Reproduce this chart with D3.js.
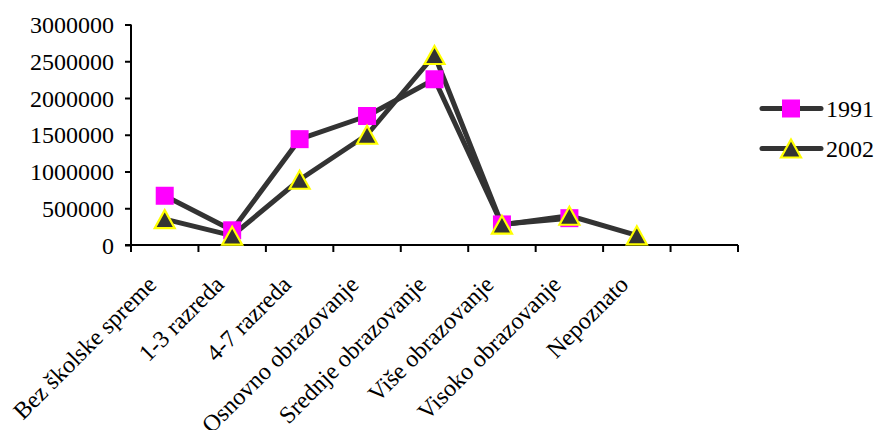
<!DOCTYPE html>
<html>
<head>
<meta charset="utf-8">
<script src="https://cdn.jsdelivr.net/npm/d3@7"></script>
<style>
  body { margin: 0; background: #fff; }
  svg { display: block; }
  text { font-family: "Liberation Serif", "Times New Roman", serif; fill: #000; }
</style>
</head>
<body>
<svg id="chart" width="882" height="430"></svg>
<script>
const categories = ["Bez školske spreme", "1-3 razreda", "4-7 razreda", "Osnovno obrazovanje",
  "Srednje obrazovanje", "Više obrazovanje", "Visoko obrazovanje", "Nepoznato", ""];
const values1991 = [670000, 200000, 1440000, 1755000, 2255000, 280000, 365000, null, null];
const values2002 = [352000, 127000, 888000, 1500000, 2585000, 276000, 398000, 132000, null];
const yTicks = [0, 500000, 1000000, 1500000, 2000000, 2500000, 3000000];
const seriesNames = ["1991", "2002"];

const svg = d3.select("#chart");
const plotLeft = 131, plotRight = 738, plotTop = 24.5, plotBottom = 245;
const fontSize = 24;

const x = d3.scaleBand().domain(d3.range(categories.length)).range([plotLeft, plotRight]).padding(0);
const y = d3.scaleLinear().domain([0, 3000000]).range([plotBottom, plotTop]);
const cx = i => x(i) + x.bandwidth() / 2;

// Y axis
const yAxis = d3.axisLeft(y).tickValues(yTicks).tickFormat(d3.format("d")).tickSize(6).tickPadding(11);
const gy = svg.append("g").attr("transform", `translate(${plotLeft},0)`).call(yAxis);
gy.select(".domain").attr("stroke", "#000").attr("stroke-width", 2).attr("d", `M0,${plotTop}V${plotBottom}`);
gy.selectAll(".tick line").attr("stroke", "#000").attr("stroke-width", 2);
gy.selectAll(".tick text").style("font-size", fontSize + "px").attr("font-family", "Liberation Serif").attr("dy", "0.34em");

// X axis
const xTickPos = d3.range(categories.length + 1).map(i => plotLeft + i * x.bandwidth());
const gx = svg.append("g");
gx.append("line").attr("x1", plotLeft - 6).attr("x2", plotRight).attr("y1", plotBottom).attr("y2", plotBottom)
  .attr("stroke", "#000").attr("stroke-width", 2);
gx.selectAll("line.tk").data(xTickPos).join("line").attr("class", "tk")
  .attr("x1", d => d).attr("x2", d => d).attr("y1", plotBottom).attr("y2", plotBottom + 7)
  .attr("stroke", "#000").attr("stroke-width", 2);
gx.selectAll("text.cat").data(categories).join("text").attr("class", "cat")
  .attr("text-anchor", "end")
  .attr("transform", (d, i) => `translate(${cx(i) - 7},${plotBottom + 41}) rotate(-45)`)
  .style("font-size", fontSize + "px")
  .text(d => d);

// Lines
const lineColor = "#333333";
const line = d3.line().defined(d => d.v != null).x(d => cx(d.i)).y(d => y(d.v));
const s1 = values1991.map((v, i) => ({ v, i }));
const s2 = values2002.map((v, i) => ({ v, i }));
svg.append("path").datum(s1).attr("d", line).attr("fill", "none").attr("stroke", lineColor).attr("stroke-width", 5).attr("stroke-linejoin", "round");
svg.append("path").datum(s2).attr("d", line).attr("fill", "none").attr("stroke", lineColor).attr("stroke-width", 5).attr("stroke-linejoin", "round");

const sq = 18;
function square(g, px, py) {
  g.append("rect").attr("x", px - sq / 2).attr("y", py - sq / 2).attr("width", sq).attr("height", sq).attr("fill", "#FF00FF");
}
function triangle(g, px, py) {
  const h = 18, w = 20;
  g.append("path").attr("d", `M${px},${py - h / 2}L${px + w / 2},${py + h / 2}L${px - w / 2},${py + h / 2}Z`)
    .attr("fill", "#333333").attr("stroke", "#FFFF00").attr("stroke-width", 2.2).attr("stroke-linejoin", "miter");
}
const m1 = svg.append("g");
s1.filter(d => d.v != null).forEach(d => square(m1, cx(d.i), y(d.v)));
const m2 = svg.append("g");
s2.filter(d => d.v != null).forEach(d => triangle(m2, cx(d.i), y(d.v)));

// Legend
const legY = [108.5, 148.5];
const leg = svg.append("g");
seriesNames.forEach((name, k) => {
  leg.append("line").attr("x1", 762).attr("x2", 821).attr("y1", legY[k]).attr("y2", legY[k])
    .attr("stroke", lineColor).attr("stroke-width", 5).attr("stroke-linecap", "round");
  if (k === 0) square(leg, 791, legY[k]); else triangle(leg, 791, legY[k]);
  leg.append("text").attr("x", 826).attr("y", legY[k] + 8.5).style("font-size", fontSize + "px").text(name);
});
</script>
</body>
</html>
